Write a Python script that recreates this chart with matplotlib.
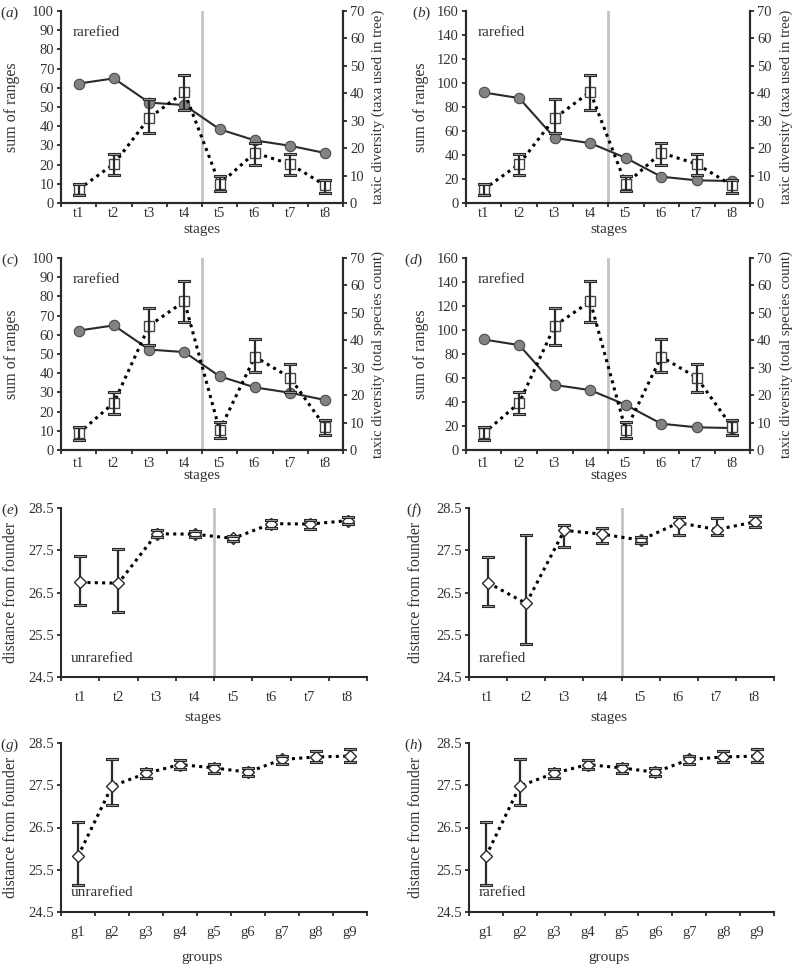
import matplotlib

matplotlib.use("Agg")
import matplotlib.pyplot as plt
import numpy as np

W, H = 792, 969

stages = ["t1", "t2", "t3", "t4", "t5", "t6", "t7", "t8"]
groups = ["g1", "g2", "g3", "g4", "g5", "g6", "g7", "g8", "g9"]

# sum of ranges (circles, left axis)
ranges_ac = [62.2, 64.9, 52.3, 51.0, 38.4, 32.6, 29.8, 26.0]
ranges_bd = [92.1, 87.4, 54.2, 49.9, 37.6, 21.9, 18.9, 18.3]

# taxic diversity, taxa used in tree (squares, right axis, panels a/b)
tree_mean = [5.0, 14.2, 31.0, 40.5, 6.9, 18.3, 14.2, 6.4]
tree_lo = [2.8, 10.2, 25.7, 34.0, 4.2, 13.9, 10.2, 3.5]
tree_hi = [7.0, 17.8, 38.0, 46.7, 9.9, 21.7, 17.8, 8.4]

# taxic diversity, total species count (squares, right axis, panels c/d)
count_mean = [6.1, 17.2, 45.3, 54.2, 7.2, 34.0, 26.4, 8.3]
count_lo = [3.6, 13.1, 38.4, 46.8, 4.2, 28.5, 21.1, 5.4]
count_hi = [8.4, 21.2, 51.9, 61.6, 10.1, 40.3, 31.2, 11.0]

# distance from founder by stage
unraref_mean = [26.74, 26.72, 27.89, 27.88, 27.78, 28.13, 28.12, 28.20]
unraref_lo = [26.20, 26.05, 27.81, 27.81, 27.71, 28.03, 28.00, 28.12]
unraref_hi = [27.37, 27.54, 27.99, 27.95, 27.84, 28.22, 28.22, 28.28]

raref_mean = [26.73, 26.24, 27.97, 27.88, 27.74, 28.15, 27.99, 28.17]
raref_lo = [26.18, 25.29, 27.58, 27.66, 27.66, 27.86, 27.85, 28.05]
raref_hi = [27.34, 27.85, 28.09, 28.02, 27.82, 28.28, 28.27, 28.30]

# distance from founder by group
group_mean = [25.82, 27.48, 27.78, 27.99, 27.91, 27.81, 28.11, 28.17, 28.19]
group_lo = [25.14, 27.03, 27.67, 27.88, 27.80, 27.71, 28.01, 28.04, 28.04]
group_hi = [26.63, 28.11, 27.89, 28.10, 28.01, 27.90, 28.19, 28.30, 28.35]

DARK = "#2a2a2a"
CAP = [(-1, -0.22), (1, -0.22), (1, 0.22), (-1, 0.22), (-1, -0.22)]
TICK_FS = 10.5
LABEL_FS = 11

plt.rcParams.update(
    {
        "font.family": ["Liberation Serif", "DejaVu Serif"],
        "font.size": TICK_FS,
        "mathtext.fontset": "custom",
        "mathtext.it": "Liberation Serif:italic",
        "mathtext.rm": "Liberation Serif",
        "axes.edgecolor": DARK,
        "axes.linewidth": 1.5,
        "xtick.color": DARK,
        "ytick.color": DARK,
        "xtick.labelcolor": "#333333",
        "ytick.labelcolor": "#333333",
        "xtick.major.width": 1.3,
        "ytick.major.width": 1.3,
        "xtick.major.size": 3,
        "ytick.major.size": 3,
    }
)


def _axes(fig, left, top, right, bottom):
    return fig.add_axes([left / W, 1 - bottom / H, (right - left) / W, (bottom - top) / H])


def _ftext(fig, x, y, s, **kw):
    fig.text(x / W, 1 - y / H, s, color="#333333", **kw)


def _categories(ax, labels, pad):
    n = len(labels)
    ax.set_xlim(-0.5, n - 0.5)
    ax.set_xticks(np.arange(n + 1) - 0.5)
    ax.set_xticklabels([])
    ax.set_xticks(np.arange(n), minor=True)
    ax.set_xticklabels(labels, minor=True)
    ax.tick_params(axis="x", which="minor", length=0, pad=pad, labelsize=TICK_FS)
    ax.spines["top"].set_visible(False)


def _errors(ax, x, mean, lo, hi, marker, msize):
    ax.plot(x, mean, color="black", ls=(0, (1.0, 1.4)), lw=2.2, zorder=2)
    ax.plot(x, mean, ls="none", marker=marker, ms=msize, mfc="white", mec="#444444", mew=1.0, zorder=3)
    ax.vlines(x, lo, hi, color=DARK, lw=1.6, zorder=4)
    for ends in (lo, hi):
        ax.plot(x, ends, ls="none", marker=CAP, ms=9, mfc="#a0a0a0", mec=DARK, mew=0.8, zorder=5)


def _stage_panel(fig, box, letter, ranges, rtop, rstep, mean, lo, hi, right_label, label_x, pad):
    left, top, right, bottom = box
    ax = _axes(fig, *box)
    x = np.arange(len(stages))
    _categories(ax, stages, pad)
    ax.axvline(3.5, color="#c4c4c4", lw=2, zorder=0)
    ax.plot(x, ranges, color=DARK, lw=1.5, marker="o", ms=7.5, mfc="#828282", mec="#4a4a4a", mew=0.8, zorder=3)
    ax.set_ylim(0, rtop)
    ax.set_yticks(np.arange(0, rtop + 1, rstep))
    ax.tick_params(axis="y", pad=2)
    tw = ax.twinx()
    tw.set_ylim(0, 70)
    tw.set_yticks(np.arange(0, 71, 10))
    tw.tick_params(axis="y", pad=2)
    tw.spines["top"].set_visible(False)
    _errors(tw, x, mean, lo, hi, "s", 6.5)
    mid = (top + bottom) / 2
    _ftext(fig, label_x[0], mid, "sum of ranges", rotation=90, ha="center", va="center", fontsize=11.5)
    _ftext(fig, label_x[1], mid, right_label, rotation=90, ha="center", va="center", fontsize=10.6)
    _ftext(fig, label_x[2], top + 2, "(" + "$\\it{" + letter + "}$" + ")", ha="center", va="center", fontsize=LABEL_FS)
    _ftext(fig, left + 12, top + 22, "rarefied", ha="left", va="center", fontsize=LABEL_FS)
    _ftext(fig, label_x[3], bottom + 26, "stages", ha="center", va="center", fontsize=LABEL_FS)


def _distance_panel(fig, box, letter, labels, mean, lo, hi, note, divider, xlabel, label_x):
    left, top, right, bottom = box
    ax = _axes(fig, *box)
    x = np.arange(len(labels))
    _categories(ax, labels, 10)
    if divider:
        ax.axvline(3.5, color="#c4c4c4", lw=2, zorder=0)
    ax.set_ylim(24.5, 28.5)
    ax.set_yticks([24.5, 25.5, 26.5, 27.5, 28.5])
    ax.set_yticklabels(["24.5", "25.5", "26.5", "27.5", "28.5"])
    ax.tick_params(axis="y", pad=2)
    ax.spines["right"].set_visible(False)
    ax.plot(x, mean, color="black", ls=(0, (1.0, 1.4)), lw=2.2, zorder=2)
    ax.vlines(x, lo, hi, color=DARK, lw=1.6, zorder=3)
    ax.plot(x, mean, ls="none", marker="D", ms=6.5, mfc="white", mec=DARK, mew=1.0, zorder=4)
    for ends in (lo, hi):
        ax.plot(x, ends, ls="none", marker=CAP, ms=9, mfc="#a0a0a0", mec=DARK, mew=0.8, zorder=5)
    mid = (top + bottom) / 2
    _ftext(fig, label_x[0], mid, "distance from founder", rotation=90, ha="center", va="center", fontsize=11.5)
    _ftext(fig, label_x[1], top + 2, "(" + "$\\it{" + letter + "}$" + ")", ha="center", va="center", fontsize=LABEL_FS)
    _ftext(fig, left + 10, bottom - 19, note, ha="left", va="center", fontsize=LABEL_FS)
    _ftext(fig, label_x[2], bottom + 46 if xlabel == "groups" else bottom + 41, xlabel,
           ha="center", va="center", fontsize=LABEL_FS)


fig = plt.figure(figsize=(W / 100, H / 100), dpi=100)

_stage_panel(fig, (61, 11, 343, 203), "a", ranges_ac, 100, 10, tree_mean, tree_lo, tree_hi,
             "taxic diversity (taxa used in tree)", (12, 378, 10, 202), 3)
_stage_panel(fig, (466, 11, 750, 203), "b", ranges_bd, 160, 20, tree_mean, tree_lo, tree_hi,
             "taxic diversity (taxa used in tree)", (421, 786, 422, 609), 3)
_stage_panel(fig, (61, 258, 343, 450), "c", ranges_ac, 100, 10, count_mean, count_lo, count_hi,
             "taxic diversity (total species count)", (12, 378, 10, 202), 5)
_stage_panel(fig, (466, 258, 750, 450), "d", ranges_bd, 160, 20, count_mean, count_lo, count_hi,
             "taxic diversity (total species count)", (421, 786, 414, 609), 5)

_distance_panel(fig, (61, 508, 367, 677), "e", stages, unraref_mean, unraref_lo, unraref_hi,
                "unrarefied", True, "stages", (11, 10, 203))
_distance_panel(fig, (469, 508, 774, 677), "f", stages, raref_mean, raref_lo, raref_hi,
                "rarefied", True, "stages", (416, 414, 609))
_distance_panel(fig, (61, 743, 367, 912), "g", groups, group_mean, group_lo, group_hi,
                "unrarefied", False, "groups", (11, 10, 202))
_distance_panel(fig, (469, 743, 774, 912), "h", groups, group_mean, group_lo, group_hi,
                "rarefied", False, "groups", (416, 414, 609))

fig.savefig("out.png", dpi=100)
